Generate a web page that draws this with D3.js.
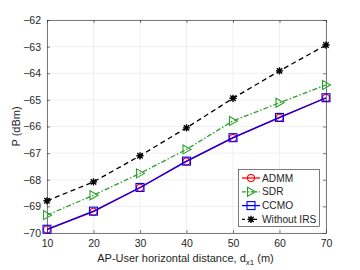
<!DOCTYPE html>
<html><head><meta charset="utf-8">
<script src="https://cdn.jsdelivr.net/npm/d3@7"></script>
<style>body{margin:0;background:#fff;}svg{display:block;font-family:"Liberation Sans",Arial,sans-serif;}</style>
</head><body><svg id="c" width="360" height="270"></svg>
<script>
const distances = [10, 20, 30, 40, 50, 60, 70];
const admm = [-69.87, -69.20, -68.30, -67.31, -66.43, -65.67, -64.93];
const sdr = [-69.33, -68.58, -67.76, -66.86, -65.79, -65.11, -64.44];
const ccmo = [-69.86, -69.18, -68.29, -67.30, -66.42, -65.66, -64.92];
const withoutIRS = [-68.79, -68.08, -67.10, -66.05, -64.94, -63.91, -62.94];
const xTicks = [10, 20, 30, 40, 50, 60, 70];
const yTicks = [-70, -69, -68, -67, -66, -65, -64, -63, -62];
const seriesNames = ["ADMM", "SDR", "CCMO", "Without IRS"];

const svg = d3.select("#c");
const L = 47, R = 326, T = 20, B = 233;
const x = d3.scaleLinear().domain([10, 70]).range([L, R]);
const y = d3.scaleLinear().domain([-70, -62]).range([B, T]);
const tc = "#262626";

// grid
svg.append("g").selectAll("line").data(xTicks).join("line")
  .attr("x1", d => x(d)).attr("x2", d => x(d)).attr("y1", T).attr("y2", B)
  .attr("stroke", "#e6e6e6").attr("stroke-width", 0.6);
svg.append("g").selectAll("line").data(yTicks).join("line")
  .attr("y1", d => y(d)).attr("y2", d => y(d)).attr("x1", L).attr("x2", R)
  .attr("stroke", "#e6e6e6").attr("stroke-width", 0.6);

// axes
const xa = svg.append("g").attr("transform", `translate(0,${B})`)
  .call(d3.axisBottom(x).tickValues(xTicks).tickSizeInner(-3).tickSizeOuter(0).tickPadding(7));
const xt = svg.append("g").attr("transform", `translate(0,${T})`)
  .call(d3.axisTop(x).tickValues(xTicks).tickSizeInner(-3).tickSizeOuter(0).tickFormat(""));
const ya = svg.append("g").attr("transform", `translate(${L},0)`)
  .call(d3.axisLeft(y).tickValues(yTicks).tickSizeInner(-3).tickSizeOuter(0).tickPadding(6));
const yr = svg.append("g").attr("transform", `translate(${R},0)`)
  .call(d3.axisRight(y).tickValues(yTicks).tickSizeInner(-3).tickSizeOuter(0).tickFormat(""));
[xa, xt, ya, yr].forEach(g => {
  g.selectAll("path").attr("stroke", tc).attr("stroke-width", 0.6);
  g.selectAll("line").attr("stroke", tc).attr("stroke-width", 0.6);
  g.selectAll("text").attr("fill", tc).attr("font-size", 10.5).attr("font-family", "Liberation Sans, Arial, sans-serif");
});

// labels
const xl = svg.append("text").attr("x", (L + R) / 2 - 1).attr("y", 262).attr("text-anchor", "middle")
  .attr("font-size", 11).attr("fill", tc);
xl.append("tspan").text("AP-User horizontal distance, d");
xl.append("tspan").attr("font-size", 8).attr("dy", 3).text("x1");
xl.append("tspan").attr("dy", -3).text(" (m)");
svg.append("text").attr("transform", `translate(20,${(T + B) / 2}) rotate(-90)`)
  .attr("text-anchor", "middle").attr("font-size", 11).attr("fill", tc).text("P (dBm)");

const series = [
  {name: seriesNames[0], data: admm, color: "#ff0000", dash: null, marker: "circle"},
  {name: seriesNames[1], data: sdr, color: "#2ca02c", dash: "5,2,1.5,2", marker: "tri"},
  {name: seriesNames[2], data: ccmo, color: "#0000ff", dash: null, marker: "square"},
  {name: seriesNames[3], data: withoutIRS, color: "#000000", dash: "5,3.5", marker: "star"}
];
const line = d3.line().x((d, i) => x(distances[i])).y(d => y(d));

function marker(g, type, color, cx, cy) {
  if (type === "circle") g.append("circle").attr("cx", cx).attr("cy", cy).attr("r", 3.5)
    .attr("fill", "none").attr("stroke", color).attr("stroke-width", 1.1);
  else if (type === "square") g.append("rect").attr("x", cx - 4).attr("y", cy - 4).attr("width", 8).attr("height", 8)
    .attr("fill", "none").attr("stroke", color).attr("stroke-width", 1.1);
  else if (type === "tri") g.append("path")
    .attr("d", `M${cx - 3.5},${cy - 4.5}L${cx + 4.5},${cy}L${cx - 3.5},${cy + 4.5}Z`)
    .attr("fill", "none").attr("stroke", color).attr("stroke-width", 1.1);
  else if (type === "star") {
    const s = 3.6;
    g.append("path").attr("d",
      `M${cx - s},${cy}L${cx + s},${cy}M${cx},${cy - s}L${cx},${cy + s}` +
      `M${cx - s * .75},${cy - s * .75}L${cx + s * .75},${cy + s * .75}M${cx - s * .75},${cy + s * .75}L${cx + s * .75},${cy - s * .75}`)
      .attr("stroke", color).attr("stroke-width", 1.4);
  }
}

series.forEach(s => {
  const g = svg.append("g");
  g.append("path").datum(s.data).attr("d", line).attr("fill", "none")
    .attr("stroke", s.color).attr("stroke-width", 1.3).attr("stroke-dasharray", s.dash);
  s.data.forEach((v, i) => marker(g, s.marker, s.color, x(distances[i]), y(v)));
});

// legend
const lg = svg.append("g");
lg.append("rect").attr("x", 238.5).attr("y", 169.5).attr("width", 81).attr("height", 57)
  .attr("fill", "#fff").attr("stroke", tc).attr("stroke-width", 0.6);
series.forEach((s, i) => {
  const yy = 178 + i * 13.8;
  lg.append("line").attr("x1", 242).attr("x2", 260).attr("y1", yy).attr("y2", yy)
    .attr("stroke", s.color).attr("stroke-width", 1.3).attr("stroke-dasharray", s.dash ? (s.marker === "tri" ? "4,1.5,1.5,1.5" : "3,3") : null);
  marker(lg, s.marker, s.color, 251, yy);
  lg.append("text").attr("x", 262).attr("y", yy + 3.5).attr("font-size", 10.2).attr("fill", tc).text(s.name);
});
</script></body></html>
